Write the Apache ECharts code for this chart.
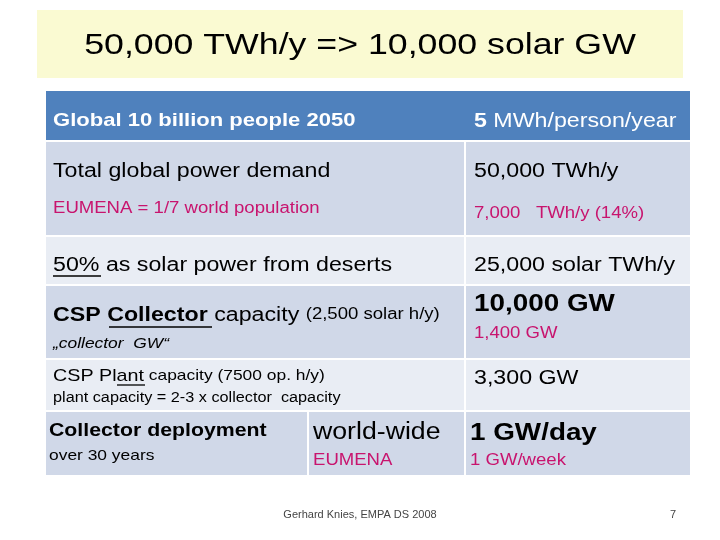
<!DOCTYPE html>
<html><head><meta charset="utf-8">
<script src="https://cdn.jsdelivr.net/npm/echarts@6/dist/echarts.min.js"></script>
<style>html,body{margin:0;padding:0;background:#fff}#c{width:720px;height:540px}</style>
</head><body><div id="c"></div>
<script>
const titleText = '50,000 TWh/y => 10,000 solar GW';
const headerLeft = 'Global 10 billion people 2050';
const headerRight = ['5', ' MWh/person/year'];
const demandLabel = 'Total global power demand';
const demandValue = '50,000 TWh/y';
const eumenaLabel = 'EUMENA = 1/7 world population';
const eumenaValue = '7,000   TWh/y (14%)';
const solarLabel = ['50%', ' as solar power from deserts'];
const solarValue = '25,000 solar TWh/y';
const collectorLabel = ['CSP ', 'Collector', ' capacity ', '(2,500 solar h/y)'];
const collectorNote = '„collector  GW“';
const collectorValue = '10,000 GW';
const collectorEumena = '1,400 GW';
const plantLabel = ['CSP ', 'Plant', ' capacity (7500 op. h/y)'];
const plantNote = 'plant capacity = 2-3 x collector  capacity';
const plantValue = '3,300 GW';
const deployLabel = 'Collector deployment';
const deployNote = 'over 30 years';
const deployScope = ['world-wide', 'EUMENA'];
const deployRate = ['1 GW/day', '1 GW/week'];
const footer = 'Gerhard Knies, EMPA DS 2008';
const pageNo = '7';

const F = 'Liberation Sans, Arial, sans-serif';
const PINK = '#c8146e';
const DARK = '#d0d8e8', LIGHT = '#e9edf4', BLUE = '#4f81bd';
const SX = 1.16;
const rect = (x, y, w, h, fill) => ({type:'rect', shape:{x, y, width:w, height:h}, style:{fill}});
const line = (x1, x2, y) => ({type:'line', shape:{x1, y1:y, x2, y2:y}, style:{stroke:'#000', lineWidth:1.3}});
const txt = (x, y, text, size, opt, sx) => ({type:'text', x, y, scaleX: sx || SX,
  style:Object.assign({text, fontSize:size, fontFamily:F, fontWeight:'normal', fill:'#000', textVerticalAlign:'middle'}, opt || {})});
const rich = (x, y, text, richDef) => ({type:'text', x, y, scaleX:SX, style:{text, rich:richDef, textVerticalAlign:'middle', fontFamily:F}});

const g = [
  rect(37, 10, 646, 68, '#fafad2'),
  txt(360, 46, titleText, 30, {textAlign:'center'}, 1.19),
  rect(46, 91, 644, 49, BLUE),
  rect(46, 142, 418, 93, DARK), rect(466, 142, 224, 93, DARK),
  rect(46, 237, 418, 47, LIGHT), rect(466, 237, 224, 47, LIGHT),
  rect(46, 286, 418, 72, DARK), rect(466, 286, 224, 72, DARK),
  rect(46, 360, 418, 50, LIGHT), rect(466, 360, 224, 50, LIGHT),
  rect(46, 412, 261, 63, DARK), rect(309, 412, 155, 63, DARK), rect(466, 412, 224, 63, DARK),
  txt(53, 121, headerLeft, 19, {fill:'#fff', fontWeight:'bold'}),
  rich(474, 121, '{b|' + headerRight[0] + '}{n|' + headerRight[1] + '}', {b:{fontSize:20, fontWeight:'bold', fontFamily:F, fill:'#fff'}, n:{fontSize:20, fontFamily:F, fill:'#fff'}}),
  txt(53, 171, demandLabel, 20),
  txt(474, 171, demandValue, 20),
  txt(53, 209, eumenaLabel, 16, {fill:PINK}),
  txt(474, 214, eumenaValue, 16, {fill:PINK}),
  rich(53, 265, '{n|' + solarLabel[0] + solarLabel[1] + '}', {n:{fontSize:20, fontFamily:F, fill:'#000'}}),
  line(53, 101, 276),
  txt(474, 265, solarValue, 20),
  rich(53, 315, '{b|' + collectorLabel[0] + collectorLabel[1] + '}{n|' + collectorLabel[2] + '}{s|' + collectorLabel[3] + '}',
    {b:{fontSize:20, fontWeight:'bold', fontFamily:F, fill:'#000'}, n:{fontSize:20, fontFamily:F, fill:'#000'}, s:{fontSize:16, fontFamily:F, fill:'#000'}}),
  line(109, 212, 327),
  txt(53, 344, collectorNote, 15, {fontStyle:'italic'}),
  txt(474, 304, collectorValue, 24, {fontWeight:'bold'}),
  txt(474, 334, collectorEumena, 16, {fill:PINK}),
  rich(53, 376, '{n|' + plantLabel[0] + plantLabel[1] + '}{s|' + plantLabel[2] + '}',
    {n:{fontSize:17, fontFamily:F, fill:'#000'}, s:{fontSize:15, fontFamily:F, fill:'#000'}}),
  line(117, 145, 385),
  txt(53, 398, plantNote, 14),
  txt(474, 378, plantValue, 20),
  txt(49, 431, deployLabel, 19, {fontWeight:'bold'}, 1.12),
  txt(49, 456, deployNote, 15),
  txt(313, 433, deployScope[0], 23),
  txt(313, 461, deployScope[1], 16, {fill:PINK}),
  txt(470, 433, deployRate[0], 24, {fontWeight:'bold'}),
  txt(470, 461, deployRate[1], 16, {fill:PINK}),
  txt(360, 515, footer, 11, {textAlign:'center', fill:'#444'}, 1),
  txt(676, 515, pageNo, 11, {textAlign:'right', fill:'#444'}, 1)
];
const chart = echarts.init(document.getElementById('c'));
chart.setOption({backgroundColor:'#fff', animation:false, graphic:g});
</script></body></html>
